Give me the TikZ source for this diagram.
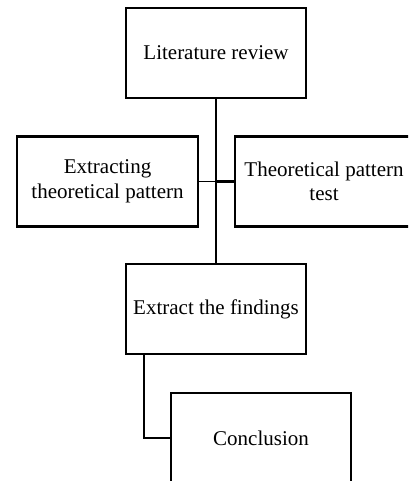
\documentclass[tikz,border=0pt]{standalone}
\usepackage{fontspec}
\setmainfont{Liberation Serif}
\begin{document}
\begin{tikzpicture}[x=1pt,y=-1pt,
  box/.style={draw,line width=2.5pt,minimum width=180pt,minimum height=90pt,inner sep=0pt,align=center,font=\fontsize{21}{24.5}\selectfont},
  conn/.style={line width=2.5pt},
  thinconn/.style={line width=1.2pt}]
\useasboundingbox (0,0) rectangle (408,481);
\clip (0,0) rectangle (408,481);
\node[box] (lit) at (216,53) {Literature review};
\node[box,minimum width=181pt] (left) at (107.5,181.5) {Extracting\\theoretical pattern};
\node[box,minimum width=178pt] (right) at (324,181.5) {Theoretical pattern\\test};
\node[box] (ext) at (216,309) {Extract the findings};
\node[box] (conc) at (261,438) {Conclusion};
\coordinate (mid) at (lit.south |- left.east);
\coordinate (bend) at ([xshift=-72pt]ext.south |- conc.west);
\draw[conn] (lit.south) -- (ext.north);
\draw[thinconn] (left.east) -- (mid);
\draw[conn] (mid) -- (right.west);
\draw[conn] ([xshift=-72pt]ext.south) -- (bend) -- (conc.west);
\end{tikzpicture}
\end{document}
